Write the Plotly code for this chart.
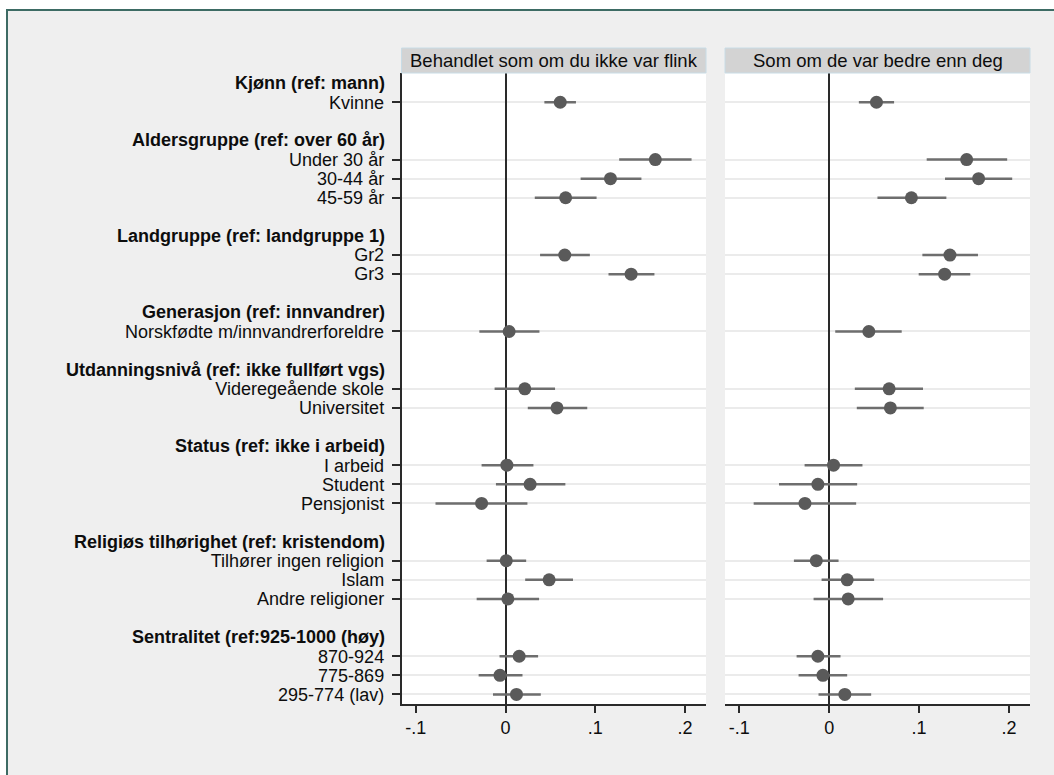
import plotly.graph_objects as go

W, H = 1054, 775

group_headers = [
    "Kjønn (ref: mann)",
    "Aldersgruppe (ref: over 60 år)",
    "Landgruppe (ref: landgruppe 1)",
    "Generasjon (ref: innvandrer)",
    "Utdanningsnivå (ref: ikke fullført vgs)",
    "Status (ref: ikke i arbeid)",
    "Religiøs tilhørighet (ref: kristendom)",
    "Sentralitet (ref:925-1000 (høy)",
]
group_items = [
    ["Kvinne"],
    ["Under 30 år", "30-44 år", "45-59 år"],
    ["Gr2", "Gr3"],
    ["Norskfødte m/innvandrerforeldre"],
    ["Videregeående skole", "Universitet"],
    ["I arbeid", "Student", "Pensjonist"],
    ["Tilhører ingen religion", "Islam", "Andre religioner"],
    ["870-924", "775-869", "295-774 (lav)"],
]

panel_titles = ["Behandlet som om du ikke var flink", "Som om de var bedre enn deg"]

p1_est = [0.061, 0.167, 0.117, 0.067, 0.066, 0.140, 0.004, 0.0215, 0.0574, 0.0015,
          0.0274, -0.0267, 0.0008, 0.0486, 0.0026, 0.0152, -0.0062, 0.0122]
p1_lo = [0.0433, 0.1267, 0.0837, 0.0326, 0.0385, 0.1148, -0.0292, -0.0122, 0.0248, -0.0267,
         -0.0107, -0.0781, -0.0211, 0.0219, -0.0322, -0.0067, -0.030, -0.014]
p1_hi = [0.0785, 0.2074, 0.1515, 0.1015, 0.094, 0.166, 0.0378, 0.0552, 0.0911, 0.0311,
         0.0667, 0.0244, 0.023, 0.0752, 0.0374, 0.0363, 0.0189, 0.0393]

p2_est = [0.0526, 0.153, 0.1663, 0.0915, 0.1344, 0.1285, 0.0441, 0.0667, 0.0681, 0.0048,
          -0.0126, -0.027, -0.0144, 0.020, 0.0211, -0.0126, -0.007, 0.0174]
p2_lo = [0.033, 0.1085, 0.1289, 0.0537, 0.1037, 0.0996, 0.0067, 0.0285, 0.0307, -0.0274,
         -0.0559, -0.0841, -0.0393, -0.0085, -0.0174, -0.0363, -0.0341, -0.0119]
p2_hi = [0.0722, 0.1981, 0.2037, 0.1304, 0.1656, 0.157, 0.0807, 0.1044, 0.1052, 0.037,
         0.0311, 0.030, 0.0104, 0.050, 0.060, 0.0126, 0.020, 0.0467]

x_tickvals = [-0.1, 0, 0.1, 0.2]
x_ticktext = ["-.1", "0", ".1", ".2"]

# ---- row layout (header row, item rows, blank row) ----
item_rows, item_labels, header_rows = [], [], []
r = 0
for hdr, items in zip(group_headers, group_items):
    header_rows.append(r)
    r += 1
    for it in items:
        item_rows.append(r)
        item_labels.append(it)
        r += 1
    r += 1
last_row = item_rows[-1]

FONT = "Liberation Sans, Arial, sans-serif"
TXT = "#0d0d0d"
FS = 18

def px(x):
    return x / W

def py(y):
    return 1 - y / H

ydom = [py(704), py(73)]
xdoms = [[px(401.5), px(706)], [px(725), px(1030)]]
xrange_ = [-0.116, 0.2235]
yrange_ = [last_row + 0.5, -0.53]

fig = go.Figure()
for i, (est, lo, hi) in enumerate([(p1_est, p1_lo, p1_hi), (p2_est, p2_lo, p2_hi)]):
    fig.add_trace(go.Scatter(
        x=est, y=item_rows, mode="markers",
        marker=dict(color="#5a5a5a", size=13),
        error_x=dict(type="data", symmetric=False,
                     array=[h - e for h, e in zip(hi, est)],
                     arrayminus=[e - l for e, l in zip(est, lo)],
                     color="#6e6e6e", thickness=2.5, width=0),
        xaxis="x" if i == 0 else "x2", yaxis="y" if i == 0 else "y2",
        showlegend=False, hoverinfo="x+y",
    ))

common_x = dict(range=xrange_, tickvals=x_tickvals, ticktext=x_ticktext,
                showgrid=False, zeroline=True, zerolinecolor="#2a2a2a", zerolinewidth=1.5,
                showline=True, linecolor="#2a2a2a", linewidth=1.5,
                ticks="outside", ticklen=7, tickwidth=1.5, tickcolor="#2a2a2a",
                tickfont=dict(family=FONT, size=FS, color=TXT), automargin=False,
                fixedrange=True)
common_y = dict(range=yrange_, tickvals=item_rows, domain=ydom,
                showgrid=True, gridcolor="#ebebeb", gridwidth=2,
                zeroline=False, automargin=False, fixedrange=True)

fig.update_layout(
    width=W, height=H,
    margin=dict(l=0, r=0, t=0, b=0),
    paper_bgcolor="#efefef", plot_bgcolor="#ffffff",
    xaxis=dict(domain=xdoms[0], anchor="y", **common_x),
    xaxis2=dict(domain=xdoms[1], anchor="y2", **common_x),
    yaxis=dict(anchor="x", ticktext=item_labels, showline=True, linecolor="#2a2a2a",
               linewidth=1.5, ticks="outside", ticklen=8, tickwidth=1.5, tickcolor="#2a2a2a",
               ticklabelstandoff=4,
               tickfont=dict(family=FONT, size=FS, color=TXT), **common_y),
    yaxis2=dict(anchor="x2", showticklabels=False, showline=False, ticks="", **common_y),
    showlegend=False,
)

shapes = []
# white outside the frame, and the frame
shapes.append(dict(type="rect", xref="paper", yref="paper", x0=-0.01, x1=1.01,
                   y0=py(10), y1=1.01, fillcolor="white", line=dict(width=0), layer="above"))
shapes.append(dict(type="rect", xref="paper", yref="paper", x0=-0.01, x1=px(7),
                   y0=-0.01, y1=1.01, fillcolor="white", line=dict(width=0), layer="above"))
shapes.append(dict(type="rect", xref="paper", yref="paper", x0=px(7), x1=1.02,
                   y0=-0.02, y1=py(10), line=dict(color="#3d6b64", width=2), layer="above"))
annotations = []
for i, t in enumerate(panel_titles):
    x0, x1 = xdoms[i]
    shapes.append(dict(type="rect", xref="paper", yref="paper", x0=x0, x1=x1,
                       y0=py(73), y1=py(48), fillcolor="#d3d3d3",
                       line=dict(color="#c8dce6", width=1), layer="above"))
    annotations.append(dict(text=t, xref="paper", yref="paper", x=(x0 + x1) / 2,
                            y=py(60.5), xanchor="center", yanchor="middle", showarrow=False,
                            font=dict(family=FONT, size=18.5, color=TXT)))
for hr, hdr in zip(header_rows, group_headers):
    annotations.append(dict(text="<b>" + hdr + "</b>", xref="paper", yref="y",
                            x=px(387), y=hr, xanchor="right", yanchor="middle",
                            showarrow=False, font=dict(family=FONT, size=FS, color=TXT)))

fig.update_layout(shapes=shapes, annotations=annotations)

fig.write_html("out.html", config={"displayModeBar": False},
               post_script="document.body.style.margin='0px';")
